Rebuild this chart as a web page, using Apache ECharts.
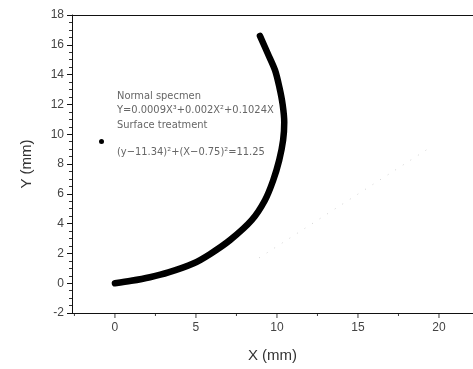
<!DOCTYPE html>
<html>
<head>
<meta charset="utf-8">
<script src="https://cdn.jsdelivr.net/npm/echarts@6/dist/echarts.min.js"></script>
<style>
  html, body { margin: 0; padding: 0; background: #fff; }
  #main { width: 473px; height: 369px; }
</style>
</head>
<body>
<div id="main"></div>
<script>
// 曲线数据 (mm)
var normalX = [0, 1.0, 2.16, 3.3, 4.83, 5.86, 7.1, 8.44, 9.26, 9.77, 10.14, 10.38, 10.45, 10.35, 10.15, 9.88, 9.44, 8.95];
var normalY = [0, 0.16, 0.4, 0.72, 1.32, 1.95, 2.89, 4.23, 5.57, 6.91, 8.26, 9.6, 10.8, 12.0, 13.15, 14.3, 15.4, 16.6];
// 很淡的那条线
var surfaceX = [8.9, 19.3];
var surfaceY = [1.7, 9.0];

var xTicks = [0, 5, 10, 15, 20];
var xMinorTicks = [-2.5, 2.5, 7.5, 12.5, 17.5];

var yMin = -2, yMax = 18;
var xMin = -2.65, xMax = 22.1;

function pairs(xs, ys) {
    return xs.map(function (x, i) { return [x, ys[i]]; });
}
// x轴刻度: 用散点画在底边 (y = yMin)
function onBottom(xs) {
    return xs.map(function (x) { return [x, yMin]; });
}

var myChart = echarts.init(document.getElementById('main'));
var font = 'Liberation Sans Narrow, Arial Narrow, DejaVu Sans Condensed, sans-serif';

function tickSeries(xs, len) {
    return {
        type: 'scatter',
        data: onBottom(xs),
        symbol: 'rect',
        symbolSize: [1, len],
        symbolOffset: [0, len / 2],
        itemStyle: { color: '#111' },
        clip: false,
        silent: true,
        z: 5
    };
}

var option = {
    animation: false,
    grid: { left: 72, top: 15, right: 0, bottom: 56 },
    xAxis: [
        {
            type: 'value',
            min: xMin,
            max: xMax,
            name: 'X (mm)',
            nameLocation: 'middle',
            nameGap: 35,
            nameTextStyle: { fontSize: 15, color: '#333', fontFamily: 'Arial, sans-serif' },
            axisLine: { show: true, onZero: false, lineStyle: { color: '#111', width: 1 } },
            axisTick: { show: false },
            axisLabel: { customValues: xTicks, color: '#444', fontSize: 12, margin: 9, fontFamily: 'Arial, sans-serif' },
            splitLine: { show: false }
        },
        {
            type: 'value',
            min: xMin,
            max: xMax,
            position: 'top',
            axisLine: { show: true, onZero: false, lineStyle: { color: '#111', width: 1.2 } },
            axisTick: { show: false },
            axisLabel: { show: false },
            splitLine: { show: false }
        }
    ],
    yAxis: {
        type: 'value',
        min: yMin,
        max: yMax,
        interval: 2,
        name: 'Y (mm)',
        nameLocation: 'middle',
        nameGap: 38,
        nameTextStyle: { fontSize: 15, color: '#333', fontFamily: 'Arial, sans-serif' },
        axisLine: { show: true, onZero: false, lineStyle: { color: '#111', width: 1 } },
        axisTick: { show: true, length: 5, lineStyle: { color: '#111' } },
        minorTick: { show: true, splitNumber: 4, length: 3, lineStyle: { color: '#333' } },
        axisLabel: { color: '#444', fontSize: 12, margin: 8, fontFamily: 'Arial, sans-serif' },
        splitLine: { show: false }
    },
    series: [
        {
            name: 'Surface treatment',
            type: 'line',
            data: pairs(surfaceX, surfaceY),
            showSymbol: false,
            lineStyle: { color: '#d0d0d0', width: 1, type: [1, 8] },
            silent: true
        },
        {
            name: 'Normal specmen',
            type: 'line',
            data: pairs(normalX, normalY),
            smooth: 0.3,
            showSymbol: false,
            lineStyle: { color: '#000', width: 6.5, cap: 'round' },
            silent: true
        },
        tickSeries(xTicks, 5),
        tickSeries(xMinorTicks, 3)
    ],
    graphic: [
        { type: 'text', left: 117, top: 91, style: { text: 'Normal specmen', fill: '#666', font: '11px ' + font } },
        { type: 'text', left: 117, top: 105, style: { text: 'Y=0.0009X³+0.002X²+0.1024X', fill: '#666', font: '11px ' + font } },
        { type: 'text', left: 117, top: 120, style: { text: 'Surface treatment', fill: '#666', font: '11px ' + font } },
        { type: 'text', left: 117, top: 147, style: { text: '(y−11.34)²+(X−0.75)²=11.25', fill: '#666', font: '11px ' + font } },
        { type: 'circle', shape: { cx: 101.5, cy: 141.5, r: 2.5 }, style: { fill: '#000' } }
    ]
};

myChart.setOption(option);
</script>
</body>
</html>
